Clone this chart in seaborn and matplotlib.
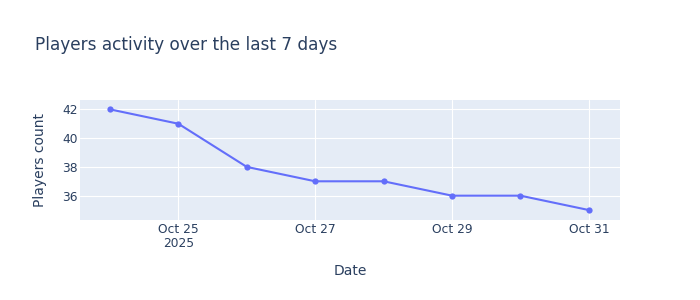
import matplotlib
matplotlib.use("Agg")
import matplotlib.pyplot as plt
import seaborn as sns
import pandas as pd
import numpy as np
import matplotlib.dates as mdates

dates = ["2025-10-24", "2025-10-25", "2025-10-26", "2025-10-27",
         "2025-10-28", "2025-10-29", "2025-10-30", "2025-10-31"]
players = [42, 41, 38, 37, 37, 36, 36, 35]
xtick_dates = ["2025-10-25", "2025-10-27", "2025-10-29", "2025-10-31"]
xtick_labels = ["Oct 25\n2025", "Oct 27", "Oct 29", "Oct 31"]
ytick_values = [36, 38, 40, 42]

df = pd.DataFrame({"Date": pd.to_datetime(dates), "Players count": players})

sns.set_theme(style="darkgrid")
plt.rcParams["font.family"] = ["DejaVu Sans"]
txt = "#2a3f5f"

fig = plt.figure(figsize=(7, 3), dpi=100)
ax = fig.add_axes([80/700, 80/300, 540/700, 120/300])
ax.set_facecolor("#E5ECF6")

sns.lineplot(data=df, x="Date", y="Players count", ax=ax, color="#636EFA",
             linewidth=1.5, marker="o", markersize=4.5, markeredgewidth=0,
             zorder=3)

xt = pd.to_datetime(xtick_dates)
ax.set_xticks(xt)
ax.set_xticklabels(xtick_labels)
d0 = df["Date"].min()
d1 = df["Date"].max()
ax.set_xlim(d0 - pd.Timedelta(hours=10.5), d1 + pd.Timedelta(hours=10.9))
ax.set_yticks(ytick_values)
ax.set_ylim(34.31, 42.65)

ax.grid(True, color="white", linewidth=0.8)
for s in ax.spines.values():
    s.set_visible(False)
ax.tick_params(axis="both", length=0, labelsize=8.8, colors=txt)
ax.tick_params(axis="x", pad=2.5)
ax.tick_params(axis="y", pad=1.5)
for lbl in ax.get_xticklabels():
    lbl.set_linespacing(1.1)

ax.set_xlabel("Date", fontsize=10, color=txt, labelpad=10)
ax.set_ylabel("Players count", fontsize=10, color=txt, labelpad=11)
fig.text(35/700, 1 - 45/300, "Players activity over the last 7 days",
         fontsize=12.2, color=txt, ha="left", va="center")

fig.savefig("out.png", dpi=100, facecolor="white")
